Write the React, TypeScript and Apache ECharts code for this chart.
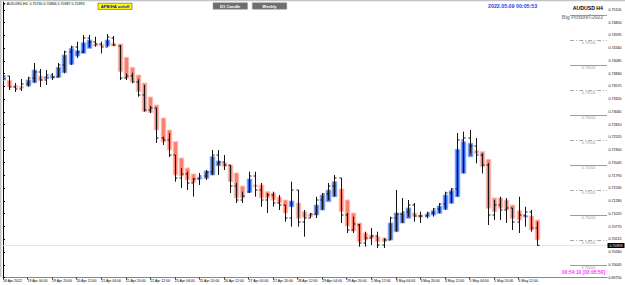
import React, { useEffect, useRef } from 'react';
import * as echarts from 'echarts';

// Heikin-Ashi bodies (open / close) and the real OHLC bars, AUDUSD H4
const haOpen = [0.737,0.7369,0.73586,0.7357,0.7358,0.73646,0.7378,0.73726,0.7374,0.73754,0.73846,0.74014,0.7418,0.74234,0.74334,0.7442,0.7441,0.7438,0.74434,0.7442,0.74154,0.73954,0.738,0.7364,0.7336,0.732,0.7294,0.727,0.72466,0.7214,0.7194,0.7182,0.7172,0.71734,0.718,0.71986,0.72046,0.72,0.7184,0.7158,0.71454,0.716,0.716,0.71466,0.7144,0.7136,0.713,0.71166,0.7124,0.71066,0.7102,0.71,0.711,0.71266,0.71366,0.7152,0.713,0.7104,0.7084,0.7064,0.706,0.70566,0.7054,0.705,0.70666,0.7084,0.70934,0.7104,0.71,0.70966,0.71,0.71034,0.71114,0.71234,0.71366,0.71834,0.72166,0.72286,0.72266,0.72114,0.7134,0.7134,0.713,0.712,0.71086,0.70966,0.7098,0.709];
const haClose = [0.73754,0.7356,0.73554,0.7354,0.737,0.739,0.73686,0.73766,0.73774,0.73954,0.742,0.74334,0.74286,0.74446,0.745,0.7438,0.7438,0.745,0.7438,0.73866,0.73734,0.73666,0.73466,0.73066,0.73046,0.727,0.7246,0.723,0.718,0.7178,0.717,0.71646,0.71754,0.7188,0.72166,0.7208,0.71966,0.71666,0.7134,0.7134,0.7172,0.71566,0.7134,0.7134,0.713,0.7124,0.7104,0.7128,0.70934,0.70954,0.70966,0.712,0.714,0.715,0.71666,0.71066,0.7078,0.7068,0.70466,0.705,0.70534,0.70466,0.70466,0.7084,0.7104,0.7104,0.7114,0.70966,0.70954,0.7102,0.71086,0.7118,0.714,0.71486,0.72314,0.72466,0.72434,0.72234,0.71966,0.71134,0.71066,0.71134,0.711,0.70934,0.709,0.70986,0.707,0.705];
const barOpen = [0.7372,0.7378,0.7356,0.7352,0.7362,0.7374,0.7386,0.737,0.738,0.7376,0.74,0.7426,0.7436,0.7426,0.7454,0.7446,0.7442,0.7436,0.7454,0.7438,0.7374,0.7378,0.7366,0.734,0.731,0.7314,0.7254,0.725,0.722,0.7174,0.7182,0.7164,0.7172,0.7178,0.7186,0.722,0.7206,0.72,0.7158,0.713,0.7146,0.7178,0.715,0.713,0.714,0.7124,0.712,0.7094,0.715,0.7086,0.7094,0.7102,0.713,0.7142,0.7158,0.7174,0.71,0.707,0.708,0.7044,0.7054,0.7058,0.704,0.705,0.7094,0.7102,0.7106,0.712,0.7098,0.7098,0.7104,0.7112,0.7122,0.7144,0.7152,0.725,0.7254,0.7238,0.722,0.72,0.71,0.712,0.711,0.7114,0.7086,0.71,0.7106,0.7074];
const barHigh = [0.73814,0.7378,0.7364,0.7372,0.73766,0.7404,0.7392,0.739,0.7384,0.7404,0.74286,0.74386,0.74466,0.746,0.746,0.74566,0.74466,0.7462,0.7458,0.744,0.73834,0.73846,0.73714,0.736,0.7318,0.7314,0.72566,0.7264,0.722,0.7194,0.71866,0.7174,0.7184,0.719,0.723,0.723,0.722,0.72,0.7164,0.71466,0.71866,0.71866,0.7164,0.7144,0.71466,0.714,0.712,0.71666,0.715,0.711,0.7104,0.71366,0.7144,0.7164,0.718,0.7174,0.7104,0.70966,0.7082,0.70666,0.7074,0.70666,0.7054,0.70966,0.715,0.7134,0.713,0.7124,0.71066,0.71066,0.7114,0.7124,0.71466,0.7154,0.7264,0.72666,0.727,0.7254,0.72234,0.7204,0.713,0.71366,0.7134,0.7114,0.71366,0.71166,0.711,0.70866];
const barLow = [0.737,0.735,0.7346,0.7348,0.73566,0.73646,0.7356,0.736,0.737,0.73754,0.73834,0.74,0.7414,0.7424,0.74354,0.74366,0.74234,0.7436,0.7438,0.737,0.737,0.73634,0.73366,0.73066,0.7304,0.7244,0.724,0.7216,0.71666,0.7154,0.715,0.71366,0.716,0.717,0.718,0.718,0.719,0.7144,0.7124,0.7124,0.7144,0.71366,0.71166,0.7104,0.71166,0.711,0.70866,0.70766,0.70766,0.70566,0.7094,0.7094,0.711,0.713,0.71366,0.7084,0.7064,0.7064,0.70366,0.70366,0.704,0.7034,0.7034,0.705,0.70666,0.7084,0.70966,0.70866,0.7084,0.70934,0.70966,0.71034,0.711,0.71234,0.71366,0.71834,0.72234,0.72034,0.71834,0.708,0.709,0.709,0.7084,0.707,0.7064,0.70766,0.70666,0.70387];
const barClose = [0.7378,0.7356,0.7352,0.7362,0.7374,0.7386,0.737,0.738,0.7376,0.74,0.7426,0.7436,0.7426,0.7454,0.7446,0.7442,0.7436,0.7456,0.744,0.7374,0.7378,0.7366,0.734,0.731,0.7314,0.7254,0.725,0.722,0.7174,0.7182,0.7164,0.7172,0.7178,0.7186,0.722,0.7206,0.72,0.7158,0.713,0.7138,0.7178,0.715,0.713,0.714,0.7124,0.712,0.7094,0.715,0.7086,0.7094,0.7102,0.713,0.7142,0.7158,0.7174,0.71,0.707,0.7082,0.7044,0.7054,0.7058,0.704,0.705,0.7094,0.7102,0.7106,0.712,0.7098,0.7098,0.7104,0.7112,0.7122,0.7144,0.7152,0.725,0.7254,0.7238,0.722,0.72,0.71,0.712,0.711,0.7114,0.7086,0.71,0.7106,0.7074,0.70393];

const xTickLabels = ['18 Apr 2022','19 Apr 04:00','19 Apr 20:00','20 Apr 12:00','21 Apr 04:00','21 Apr 20:00','22 Apr 12:00','25 Apr 04:00','25 Apr 20:00','26 Apr 12:00','27 Apr 04:00','27 Apr 20:00','28 Apr 12:00','29 Apr 04:00','29 Apr 20:00','2 May 12:00','3 May 04:00','3 May 20:00','4 May 12:00','5 May 04:00','5 May 20:00','6 May 12:00'];
const yTickLabels = ['0.69750','0.70005','0.70260','0.70515','0.70770','0.71025','0.71280','0.71535','0.71790','0.72045','0.72300','0.72555','0.72810','0.73065','0.73320','0.73575','0.73830','0.74085','0.74340','0.74595','0.74850','0.75105'];
// round-number levels drawn at the right edge; the top one's label is hidden under the title
const levelPrices = [0.75,0.745,0.74,0.735,0.73,0.725,0.72,0.715,0.71,0.705,0.70];
const levelLabelled = [false,true,true,true,true,true,true,true,true,true,true];
const bidPrice = 0.70393;

const FONT = 'Arial, "Liberation Sans", "DejaVu Sans", sans-serif';
const BULL = '#2f62de', BULL_EDGE = '#90abf0';
const BEAR = '#f8806f', BEAR_EDGE = '#fcc2ba';
const X_MAX = 98.4;
const LEVEL_X0 = 92.4;

export default function App() {
  const ref = useRef<HTMLDivElement>(null);
  useEffect(() => {
    document.body.style.margin = '0';
    const chart = echarts.init(ref.current!, null, { renderer: 'svg' });
    const n = haOpen.length;
    const candleData = haOpen.map((_, i) => [i, haOpen[i], haClose[i], barOpen[i], barHigh[i], barLow[i], barClose[i]]);
    const last = n - 1;
    const header = `\u25BC AUDUSD,H4  ${barOpen[last].toFixed(5)} ${barHigh[last].toFixed(5)} ${barLow[last].toFixed(5)} ${barClose[last].toFixed(5)}`;

    const option: any = {
      animation: false,
      backgroundColor: '#ffffff',
      textStyle: { fontFamily: FONT },
      grid: { left: 2, right: 18, top: 2, bottom: 7.5 },
      xAxis: {
        type: 'value', min: 0, max: X_MAX, interval: 4,
        axisLine: { show: true, lineStyle: { color: '#888', width: 1 } },
        axisTick: { show: true, length: 2, lineStyle: { color: '#333' }, customValues: xTickLabels.map((_, k) => k * 4) },
        axisLabel: {
          fontSize: 3.5, color: '#000', margin: 1.5, align: 'left', fontFamily: FONT,
          customValues: xTickLabels.map((_, k) => k * 4),
          formatter: (v: number) => xTickLabels[Math.round(v / 4)] ?? '',
        },
        splitLine: { show: false },
      },
      yAxis: {
        type: 'value', position: 'right', min: 0.6975, max: 0.7526,
        axisLine: { show: true, lineStyle: { color: '#000', width: 1 } },
        axisTick: { show: true, length: 2, lineStyle: { color: '#000' }, customValues: yTickLabels.map(Number) },
        axisLabel: {
          fontSize: 3.6, color: '#000', margin: 1.5, fontFamily: FONT,
          customValues: yTickLabels.map(Number),
          formatter: (v: number) => v.toFixed(5),
        },
        splitLine: { show: false },
      },
      series: [
        {
          type: 'custom', name: 'levels', clip: false, z: 1,
          data: levelPrices.map((p, k) => [p, levelLabelled[k] ? 1 : 0]),
          encode: { y: 0 },
          renderItem: (params: any, api: any) => {
            const p = api.value(0);
            const showLabel = api.value(1) === 1;
            const a = api.coord([LEVEL_X0, p]);
            const right = params.coordSys.x + params.coordSys.width;
            const dashed = Math.abs(p * 100 - Math.round(p * 100)) > 0.1;
            const y = Math.round(a[1]) + 0.5;
            const children: any[] = [
              { type: 'line', shape: { x1: a[0], y1: y, x2: right, y2: y }, style: { stroke: dashed ? '#a8a8a8' : '#9c9c9c', lineWidth: 1, lineDash: dashed ? [4, 2, 1, 2] : null } },
            ];
            if (showLabel) {
              children.push({ type: 'text', x: (a[0] + right) / 2, y: y + 0.6, style: { text: p.toFixed(5), fill: '#9a9a9a', fontSize: 3.8, fontFamily: FONT, align: 'center', verticalAlign: 'top' } });
            }
            return { type: 'group', children };
          },
        },
        {
          type: 'custom', name: 'bid', clip: false, z: 1,
          data: [[bidPrice]],
          encode: { y: 0 },
          renderItem: (params: any, api: any) => {
            const p = api.value(0);
            const a = api.coord([0, p]);
            const cs = params.coordSys;
            const y = Math.round(a[1]) + 0.5;
            return {
              type: 'group', children: [
                { type: 'line', shape: { x1: cs.x, y1: y, x2: cs.x + cs.width, y2: y }, style: { stroke: '#e0e0e0', lineWidth: 0.8 } },
                { type: 'rect', shape: { x: cs.x + cs.width + 0.5, y: y - 2.5, width: 17, height: 5 }, style: { fill: '#000' } },
                { type: 'text', x: cs.x + cs.width + 9, y: y, style: { text: p.toFixed(5), fill: '#fff', fontSize: 3.6, fontFamily: FONT, align: 'center', verticalAlign: 'middle' } },
              ],
            };
          },
        },
        {
          type: 'custom', name: 'AUDUSD H4', clip: true, z: 2,
          data: candleData,
          encode: { x: 0, y: [1, 2, 3, 4, 5, 6] },
          renderItem: (params: any, api: any) => {
            const i = api.value(0);
            const hao = api.value(1), hac = api.value(2);
            const pO = api.coord([i, hao]);
            const pC = api.coord([i, hac]);
            const pOo = api.coord([i, api.value(3)]);
            const pH = api.coord([i, api.value(4)]);
            const pL = api.coord([i, api.value(5)]);
            const pCc = api.coord([i, api.value(6)]);
            const slot = api.size([1, 0])[0];
            const bull = hac >= hao;
            const xc = Math.round(pO[0]) + 0.5;
            const bw = slot - 1.6;
            const top = Math.min(pO[1], pC[1]);
            const bh = Math.max(Math.abs(pO[1] - pC[1]), 1.2);
            const bs = { stroke: '#151515', lineWidth: 1 };
            return {
              type: 'group', children: [
                { type: 'rect', shape: { x: xc - bw / 2, y: top, width: bw, height: bh }, style: { fill: bull ? BULL : BEAR, stroke: bull ? BULL_EDGE : BEAR_EDGE, lineWidth: 1 } },
                { type: 'line', shape: { x1: xc, y1: pH[1], x2: xc, y2: pL[1] }, style: bs },
                { type: 'line', shape: { x1: xc - 2, y1: pOo[1], x2: xc, y2: pOo[1] }, style: bs },
                { type: 'line', shape: { x1: xc, y1: pCc[1], x2: xc + 2, y2: pCc[1] }, style: bs },
              ],
            };
          },
        },
      ],
      graphic: [
        { type: 'rect', left: 0, top: 0, shape: { width: 625, height: 1.2 }, style: { fill: '#c4c4c4' }, z: 10 },
        { type: 'rect', left: 0, top: 0, shape: { width: 1.5, height: 277 }, style: { fill: '#c4c4c4' }, z: 10 },
        { type: 'text', x: 2.5, y: 4, style: { text: header, fill: '#000', fontSize: 3.6, fontFamily: FONT, verticalAlign: 'middle' }, z: 10 },
        { type: 'rect', x: 98, y: 3.2, shape: { width: 34, height: 6.2 }, style: { fill: '#ffff00', stroke: '#333', lineWidth: 0.5 }, z: 10 },
        { type: 'text', x: 115, y: 6.3, style: { text: 'APB/HA on/off', fill: '#0000ee', fontSize: 4.2, fontWeight: 'bold', fontFamily: FONT, align: 'center', verticalAlign: 'middle' }, z: 11 },
        { type: 'rect', x: 213, y: 2.7, shape: { width: 34.5, height: 6.6 }, style: { fill: '#6e6e6e', stroke: '#9a9a9a', lineWidth: 0.5 }, z: 10 },
        { type: 'text', x: 230.2, y: 6, style: { text: 'D1 Candle', fill: '#fff', fontSize: 4.2, fontWeight: 'bold', fontFamily: FONT, align: 'center', verticalAlign: 'middle' }, z: 11 },
        { type: 'rect', x: 252.3, y: 2.7, shape: { width: 34.5, height: 6.6 }, style: { fill: '#6e6e6e', stroke: '#9a9a9a', lineWidth: 0.5 }, z: 10 },
        { type: 'text', x: 269.5, y: 6, style: { text: 'Weekly', fill: '#fff', fontSize: 4.2, fontWeight: 'bold', fontFamily: FONT, align: 'center', verticalAlign: 'middle' }, z: 11 },
        { type: 'text', x: 488, y: 6.3, style: { text: '2022.05.09 00:05:53', fill: '#2a3cf0', fontSize: 5.3, fontWeight: 'bold', fontFamily: FONT, verticalAlign: 'middle' }, z: 10 },
        { type: 'text', x: 603, y: 8, style: { text: 'AUDUSD H4', fill: '#000', fontSize: 5.2, fontWeight: 'bold', fontFamily: FONT, align: 'right', verticalAlign: 'middle' }, z: 10 },
        { type: 'text', x: 603, y: 17, style: { text: 'Big Picture\u00A92022', fill: '#8a8a8a', fontSize: 5, fontWeight: 'bold', fontFamily: FONT, align: 'right', verticalAlign: 'middle' }, z: 10 },
        { type: 'text', x: 605, y: 272.8, style: { text: '00:54:10 [03:05:50]', fill: '#ff33ff', fontSize: 4.8, fontWeight: 'bold', fontFamily: FONT, align: 'right', verticalAlign: 'middle' }, z: 10 },
      ],
    };
    chart.setOption(option);
    return () => chart.dispose();
  }, []);
  return <div ref={ref} style={{ width: 625, height: 285 }} />;
}
